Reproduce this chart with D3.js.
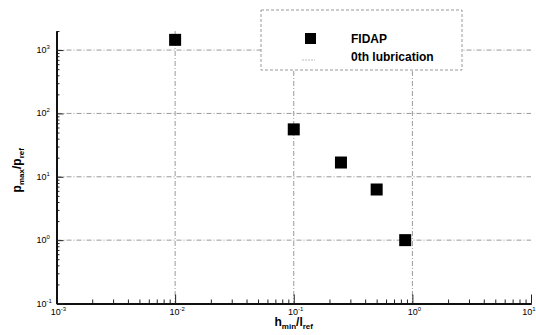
<!DOCTYPE html>
<html>
<head>
<meta charset="utf-8">
<script src="https://cdn.jsdelivr.net/npm/d3@7"></script>
<style>
  body { margin: 0; background: #fff; }
  svg { display: block; font-family: "Liberation Sans", Arial, sans-serif; }
</style>
</head>
<body>
<div class="chart"></div>
<script>
// values
var hRatio = [0.01, 0.1, 0.25, 0.5, 0.87];       // h_min / l_ref
var pRatio = [1450, 56, 16.8, 6.3, 1.0];         // p_max / p_ref
var seriesNames = ["FIDAP", "0th lubrication"];
var xTickExps = [-3, -2, -1, 0, 1];
var yTickExps = [-1, 0, 1, 2, 3];
var xDomain = [1e-3, 10];
var yDomain = [0.1, 2000];

var width = 536, height = 335;
var margin = { left: 56.5, right: 531, top: 31, bottom: 303.5 };

var svg = d3.select(".chart").append("svg")
    .attr("width", width)
    .attr("height", height);

var x = d3.scaleLog().domain(xDomain).range([margin.left, margin.right]);
var y = d3.scaleLog().domain(yDomain).range([margin.bottom, margin.top]);

var gridColor = "#9a9a9a";

//minor tick values (2..9 per decade)
function minors(domain) {
    var out = [];
    var lo = Math.floor(Math.log10(domain[0])), hi = Math.ceil(Math.log10(domain[1]));
    for (var e = lo; e < hi; e++) {
        for (var k = 2; k <= 9; k++) {
            var v = k * Math.pow(10, e);
            if (v >= domain[0] && v <= domain[1]) out.push(v);
        }
    }
    return out;
}

// grid lines
svg.append("g").selectAll("line")
    .data(yTickExps.filter(function (e) { return e > -1; }))
    .enter().append("line")
    .attr("x1", margin.left).attr("x2", margin.right)
    .attr("y1", function (e) { return y(Math.pow(10, e)); })
    .attr("y2", function (e) { return y(Math.pow(10, e)); })
    .attr("stroke", gridColor).attr("stroke-width", 1)
    .attr("stroke-dasharray", "5,2,1,2");

svg.append("g").selectAll("line")
    .data(xTickExps.filter(function (e) { return e > -3 && e < 1; }))
    .enter().append("line")
    .attr("y1", margin.top).attr("y2", margin.bottom)
    .attr("x1", function (e) { return x(Math.pow(10, e)); })
    .attr("x2", function (e) { return x(Math.pow(10, e)); })
    .attr("stroke", gridColor).attr("stroke-width", 1)
    .attr("stroke-dasharray", "5,2,1,2");

// axes
var xAxis = d3.axisBottom(x).tickValues(xTickExps.map(function (e) { return Math.pow(10, e); }))
    .tickSizeInner(-9).tickSizeOuter(0).tickFormat("");
var xMinor = d3.axisBottom(x).tickValues(minors(xDomain)).tickSizeInner(-4).tickSizeOuter(0).tickFormat("");
var yAxis = d3.axisLeft(y).tickValues(yTickExps.map(function (e) { return Math.pow(10, e); }))
    .tickSizeInner(-7).tickSizeOuter(0).tickFormat("");
var yMinor = d3.axisLeft(y).tickValues(minors(yDomain)).tickSizeInner(-3).tickSizeOuter(0).tickFormat("");

svg.append("g").attr("transform", "translate(0," + margin.bottom + ")").call(xMinor);
svg.append("g").attr("class", "x axis").attr("transform", "translate(0," + margin.bottom + ")").call(xAxis);
svg.append("g").attr("transform", "translate(" + margin.left + ",0)").call(yMinor);
svg.append("g").attr("class", "y axis").attr("transform", "translate(" + margin.left + ",0)").call(yAxis);

svg.selectAll(".domain").attr("stroke", "#111").attr("stroke-width", 2);
svg.selectAll(".tick line").attr("stroke", "#222");

// power-of-ten tick labels
function powLabel(sel, e) {
    sel.append("tspan").text("10");
    sel.append("tspan").attr("dy", -4).style("font-size", "6px").text(e < 0 ? "-" + (-e) : e);
}

svg.append("g").selectAll("text")
    .data(xTickExps)
    .enter().append("text")
    .attr("x", function (e) { return Math.min(x(Math.pow(10, e)) + 2, 529); })
    .attr("y", margin.bottom + 11)
    .style("font-size", "9px")
    .style("text-anchor", "middle")
    .each(function (e) { powLabel(d3.select(this), e); });

svg.append("g").selectAll("text")
    .data(yTickExps)
    .enter().append("text")
    .attr("x", margin.left - 20)
    .attr("y", function (e) { return y(Math.pow(10, e)) + 3; })
    .style("font-size", "9px")
    .style("text-anchor", "start")
    .each(function (e) { powLabel(d3.select(this), e); });

// axis titles
var xt = svg.append("text")
    .attr("x", (margin.left + margin.right) / 2)
    .attr("y", 326)
    .style("text-anchor", "middle")
    .style("font-weight", "bold")
    .style("font-size", "12px");
xt.append("tspan").text("h");
xt.append("tspan").attr("dy", 3).style("font-size", "8px").text("min");
xt.append("tspan").attr("dy", -3).text("/l");
xt.append("tspan").attr("dy", 3).style("font-size", "8px").text("ref");

var yt = svg.append("text")
    .attr("transform", "translate(21," + ((margin.top + margin.bottom) / 2 + 3) + ") rotate(-90)")
    .style("text-anchor", "middle")
    .style("font-weight", "bold")
    .style("font-size", "12px");
yt.append("tspan").text("p");
yt.append("tspan").attr("dy", 3).style("font-size", "8px").text("max");
yt.append("tspan").attr("dy", -3).text("/p");
yt.append("tspan").attr("dy", 3).style("font-size", "8px").text("ref");

// legend
var legend = svg.append("g").attr("class", "legend");
legend.append("rect")
    .attr("x", 261).attr("y", 10)
    .attr("width", 201).attr("height", 60)
    .attr("fill", "#fff")
    .attr("stroke", "#999").attr("stroke-width", 1)
    .attr("stroke-dasharray", "3,2");
legend.append("rect")
    .attr("x", 305).attr("y", 33)
    .attr("width", 11).attr("height", 11)
    .attr("fill", "#000");
legend.append("line")
    .attr("x1", 302).attr("x2", 315).attr("y1", 60).attr("y2", 60)
    .attr("stroke", "#bbb").attr("stroke-dasharray", "2,1");
legend.selectAll("text.entry")
    .data(seriesNames)
    .enter().append("text")
    .attr("class", "entry")
    .attr("x", 351)
    .attr("y", function (d, i) { return 43 + i * 18; })
    .style("font-weight", "bold")
    .style("font-size", "12px")
    .text(function (d) { return d; });

// draw markers
var s = 12;
svg.selectAll(".dot")
    .data(hRatio)
    .enter().append("rect")
    .attr("class", "dot")
    .attr("x", function (d) { return x(d) - s / 2; })
    .attr("y", function (d, i) { return y(pRatio[i]) - s / 2; })
    .attr("width", s).attr("height", s)
    .attr("fill", "#000");
</script>
</body>
</html>
